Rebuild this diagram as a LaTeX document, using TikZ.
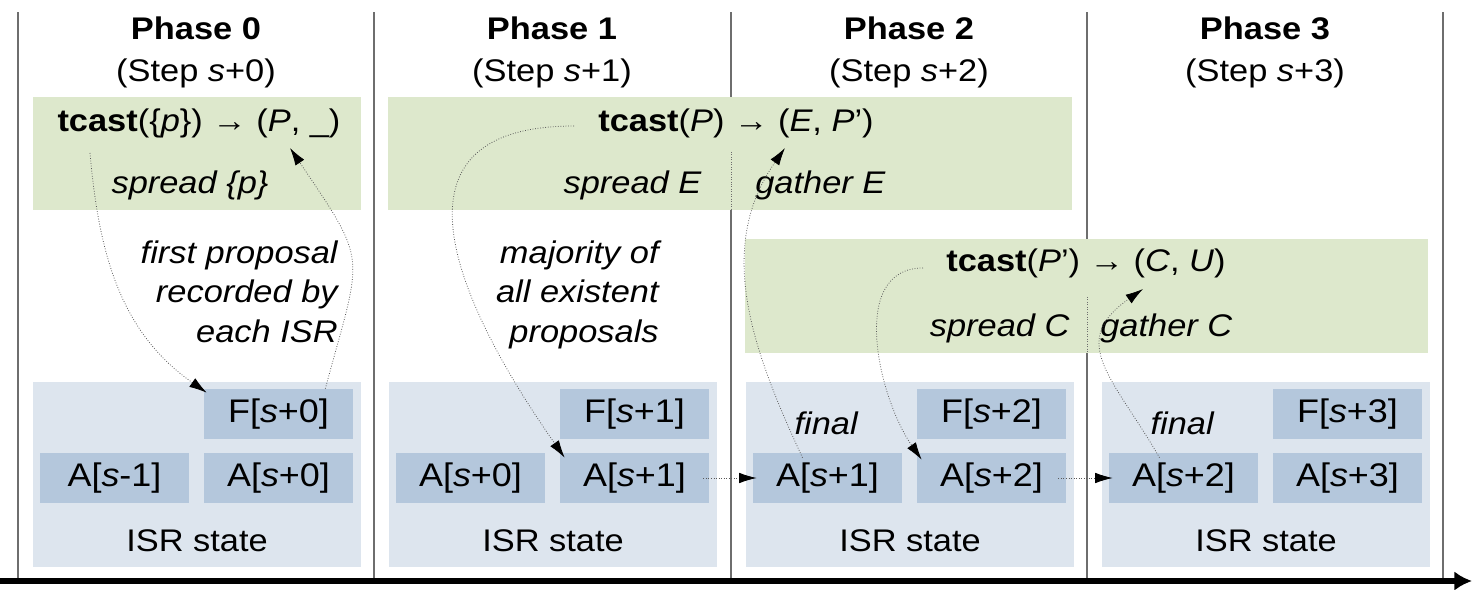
\documentclass[tikz,border=0pt]{standalone}
\usepackage{fontspec}
\setmainfont{Liberation Sans}[FakeStretch=1.1]
\usetikzlibrary{arrows.meta,calc}

\definecolor{castgreen}{RGB}{221,232,204}
\definecolor{isrblue}{RGB}{221,229,238}
\definecolor{cellblue}{RGB}{180,199,220}
\definecolor{linegray}{RGB}{110,110,110}

\begin{document}
\begin{tikzpicture}[x=0.02cm, y=0.02cm, inner sep=0,
        font=\fontsize{17.8}{22.7}\selectfont,
        castbox/.style={fill=castgreen, minimum height=2.26cm},
        isrbox/.style={fill=isrblue, minimum width=6.56cm, minimum height=3.7cm},
        cell/.style={fill=cellblue, minimum width=2.98cm, minimum height=1cm,
            font=\fontsize{18.6}{22}\selectfont},
        flow/.style={densely dotted, draw=black!65, line width=0.45pt,
            -{Latex[length=10pt,width=6pt,color=black]}}]
        \useasboundingbox (0,0) rectangle (1472,589);

        % Phase borders and time axis
        \foreach \x in {18,374,731,1087,1443}
            \draw[linegray, line width=0.8pt] (\x,8) -- (\x,577);
        \draw[line width=3.4pt, -{Latex[length=10pt,width=11pt]}] (0,8) -- (1472,8);

        % Titles
        \foreach \i/\x in {0/196,1/552,2/909,3/1265} {
            \node[anchor=base, font=\fontsize{17.8}{20}\selectfont\bfseries] (phase\i) at (\x,549) {Phase \i};
            \node[anchor=base] (step\i) at (\x,507) {(Step \textit{s}+\i)};
        }

        % tcast boxes
        \node[castbox, minimum width=6.56cm] (cast0) at (197,435.5) {};
        \node[castbox, minimum width=13.68cm] (cast1) at (730,435.5) {};
        \node[castbox, minimum width=13.66cm, minimum height=2.28cm] (cast2) at (1086.5,293) {};
        \draw[densely dotted, linegray] (731,437) -- (731,379);
        \draw[densely dotted, linegray] (1087,292) -- (1087,236);

        \node[anchor=base] (tc0) at (199,457) {\textbf{tcast}(\{\textit{p}\}) → (\textit{P}, \_)};
        \node[anchor=base] (sp0) at (190,395) {\textit{spread \{p\}}};
        \node[anchor=base] (tc1) at (736,457) {\textbf{tcast}(\textit{P}) → (\textit{E}, \textit{P}’)};
        \node[anchor=base east] (sp1) at (702,395) {\textit{spread E}};
        \node[anchor=base west] (ga1) at (755,395) {\textit{gather E}};
        \node[anchor=base] (tc2) at (1086,317) {\textbf{tcast}(\textit{P}’) → (\textit{C}, \textit{U})};
        \node[anchor=base east] (sp2) at (1070,252) {\textit{spread C}};
        \node[anchor=base west] (ga2) at (1100,252) {\textit{gather C}};

        % Notes
        \node[anchor=north east, align=right, font=\fontsize{17.8}{22.7}\selectfont\itshape] (note0) at (338,349)
            {first proposal\\recorded by\\each ISR};
        \node[anchor=north east, align=right, font=\fontsize{17.8}{22.7}\selectfont\itshape] (note1) at (659,349)
            {majority of\\all existent\\proposals};

        % ISR state
        \foreach \i/\L/\t in {0/18/-1,1/374/+0,2/731/+1,3/1087/+2} {
            \node[isrbox] (isr\i) at (\L+179,114.5) {};
            \node[anchor=base] (state\i) at (\L+179,38) {ISR state};
            \node[cell] (f\i) at (\L+260.5,175) {F[\textit{s}+\i]};
            \node[cell] (ar\i) at (\L+260.5,111) {A[\textit{s}+\i]};
            \node[cell] (al\i) at (\L+96.5,111) {A[\textit{s}\t]};
        }
        \node[anchor=base] (final2) at (826.5,154) {\textit{final}};
        \node[anchor=base] (final3) at (1182.5,154) {\textit{final}};

        % Flows
        \draw[flow] ($(tc0.base)+(-109,-21)$) to[out=-85, in=145] ($(f0.north west)+(3,-4)$);
        \draw[flow] ($(f0.north east)+(-28,0)$) to[out=75, in=-56, looseness=1.5] ($(tc0.base)+(91,-16)$);
        \draw[flow] ($(tc1.base)+(-162,6)$) to[out=180, in=125, looseness=1.5] ($(ar1.north west)+(5,-5)$);
        \draw[flow] ($(al2.north)+(-25,-5)$) to[out=115, in=-125] ($(tc1.base)+(49,-16)$);
        \draw[flow] ($(tc2.base)+(-163,4)$) to[out=180, in=125] ($(ar2.north west)+(5,-7)$);
        \draw[flow] ($(al3.north)+(-24,-5)$) to[out=120, in=-145, looseness=1.4] ($(tc2.base)+(57,-17)$);
        \draw[flow] ($(ar1.east)+(-6,0)$) -- ($(al2.west)+(4,0)$);
        \draw[flow] ($(ar2.east)+(-8,0)$) -- ($(al3.west)+(4,0)$);
\end{tikzpicture}
\end{document}
